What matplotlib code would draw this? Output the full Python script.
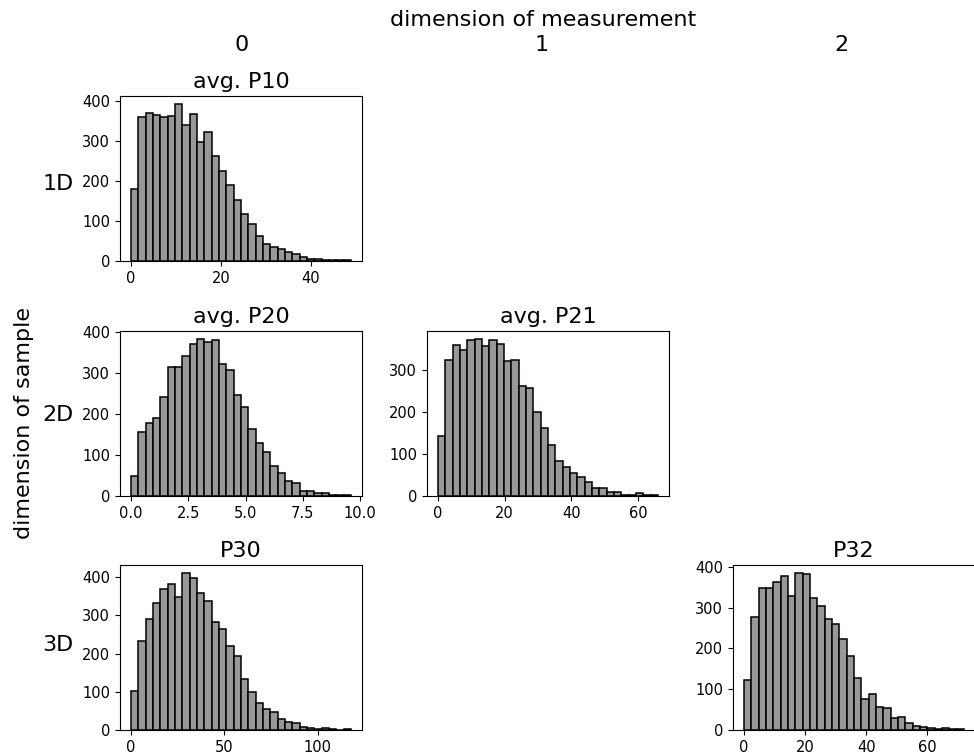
import numpy as np
import matplotlib
matplotlib.use("Agg")
import matplotlib.pyplot as plt

# bin counts (30 bins each)
p10_counts = [180, 358, 368, 364, 358, 362, 392, 339, 367, 297,
              323, 261, 225, 190, 152, 116, 92, 63, 43, 35,
              29, 23, 17, 10, 5, 4, 3, 2, 2, 2]
p10_range = (0.0, 48.9)

p20_counts = [49, 157, 178, 190, 241, 315, 315, 342, 370, 383,
              376, 379, 321, 308, 245, 217, 164, 129, 107, 73,
              55, 36, 31, 13, 11, 7, 7, 3, 2, 2]
p20_range = (0.0, 9.6)

p21_counts = [142, 324, 361, 348, 373, 375, 358, 373, 363, 321,
              325, 263, 257, 201, 163, 121, 83, 70, 56, 45,
              33, 18, 18, 10, 10, 2, 2, 6, 2, 2]
p21_range = (0.0, 66.0)

p30_counts = [102, 233, 290, 332, 369, 383, 347, 411, 398, 359,
              337, 283, 264, 221, 193, 134, 100, 71, 55, 48,
              30, 22, 19, 9, 6, 3, 5, 3, 1, 2]
p30_range = (0.0, 117.8)

p32_counts = [122, 278, 347, 347, 363, 378, 328, 385, 383, 323,
              305, 273, 260, 224, 181, 128, 76, 87, 56, 53,
              29, 32, 17, 9, 7, 6, 2, 4, 2, 3]
p32_range = (0.0, 72.0)

col_labels = ['0', '1', '2']
row_labels = ['1D', '2D', '3D']

# (row, col, title, counts, range)
panels = [
    (0, 0, 'avg. P10', p10_counts, p10_range),
    (1, 0, 'avg. P20', p20_counts, p20_range),
    (1, 1, 'avg. P21', p21_counts, p21_range),
    (2, 0, 'P30', p30_counts, p30_range),
    (2, 2, 'P32', p32_counts, p32_range),
]

W, H = 974, 754
fig = plt.figure(figsize=(W / 100, H / 100), dpi=100)

col_x = [120, 427, 733]   # left edge of each column in px
row_y = [96, 331, 565]    # top edge of each row in px
ax_w, ax_h = 242, 165

for r, c, title, counts, rng in panels:
    ax = fig.add_axes([col_x[c] / W, 1 - (row_y[r] + ax_h) / H, ax_w / W, ax_h / H])
    edges = np.linspace(rng[0], rng[1], len(counts) + 1)
    ax.hist(edges[:-1], bins=edges, weights=counts,
            color='#979997', edgecolor='black', linewidth=1.1)
    ax.set_title(title, fontsize=16)
    ax.tick_params(labelsize=10.5)

fs = 16
fig.text(543 / W, 1 - 20 / H, 'dimension of measurement', ha='center', va='center', fontsize=fs)
for x, lab in zip([242, 542, 841], col_labels):
    fig.text(x / W, 1 - 45 / H, lab, ha='center', va='center', fontsize=fs)
for y, lab in zip([184, 415, 645], row_labels):
    fig.text(58 / W, 1 - y / H, lab, ha='center', va='center', fontsize=fs)
fig.text(24 / W, 1 - 423 / H, 'dimension of sample', ha='center', va='center',
         rotation=90, fontsize=fs)

fig.savefig('out.png', dpi=100)
